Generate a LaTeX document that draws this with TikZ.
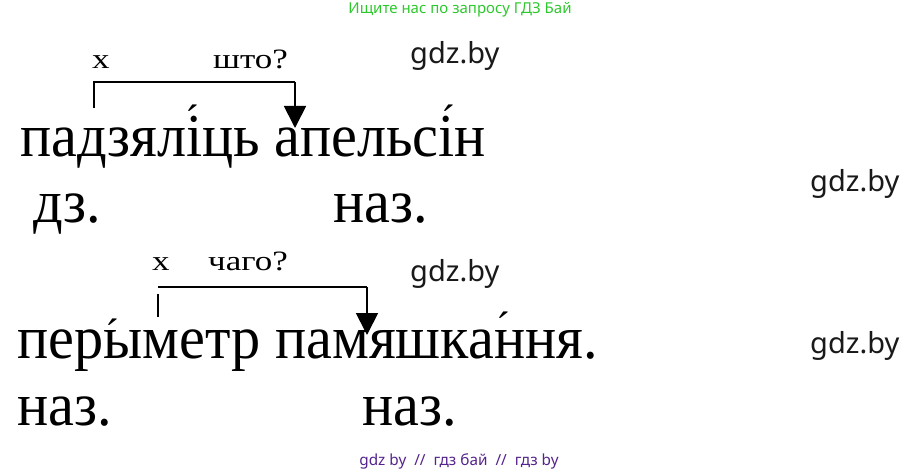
\documentclass[tikz,border=0pt]{standalone}
\usepackage{fontspec}
\setmainfont{Liberation Serif}
\newfontfamily\bigfont{Liberation Serif}[FakeStretch=0.955]
\newfontfamily\smallfont{Liberation Serif}[FakeStretch=1.25]
\newfontfamily\wmfont{Noto Sans}
\usetikzlibrary{arrows.meta}
\definecolor{hdrgreen}{RGB}{45,200,45}
\definecolor{ftrpurple}{RGB}{85,35,140}
\definecolor{wmgray}{RGB}{25,25,25}
\tikzset{
  bigtxt/.style={anchor=base west, inner sep=0pt, font=\bigfont\fontsize{61}{61}\selectfont},
  stress/.style={anchor=north, inner sep=0pt, font=\bigfont\fontsize{44}{44}\selectfont},
  smalltxt/.style={anchor=base west, inner sep=0pt, font=\smallfont\fontsize{28}{28}\selectfont},
  wm/.style={anchor=base west, inner sep=0pt, text=wmgray, font=\wmfont\fontsize{29}{29}\selectfont},
  link/.style={line width=1.8pt},
  linkarrow/.style={line width=1.8pt, -{Triangle[length=22pt,width=22pt]}},
}
\begin{document}
\begin{tikzpicture}[x=1pt,y=-1pt]
\useasboundingbox (0,0) rectangle (921,473);
% header / footer
\node[inner sep=0pt, text=hdrgreen, font=\wmfont\fontsize{15}{15}\selectfont] (hdr) at (460,10) {Ищите нас по запросу ГДЗ Бай};
\node[inner sep=0pt, text=ftrpurple, font=\wmfont\fontsize{15.3}{15.3}\selectfont] (ftr) at (459,461) {gdz by\ \ //\ \ гдз бай\ \ //\ \ гдз by};
% watermarks
\node[wm] (w1) at (410,64) {gdz.by};
\node[wm] (w2) at (810,192) {gdz.by};
\node[wm] (w3) at (410,281) {gdz.by};
\node[wm] (w4) at (810,353) {gdz.by};
% line 1
\node[smalltxt] (x1) at (92,69) {х};
\node[smalltxt] (q1) at (213,69) {што?};
\node[bigtxt] (s1) at (20,157) {падзяліць апельсін};
\node[stress] (t1) at (192,105) {´};
\node[stress] (t2) at (448,105) {´};
\node[bigtxt] (d1) at (33,223) {дз.};
\node[bigtxt] (n1) at (333,223) {наз.};
\coordinate (a1) at (94,108);
\coordinate (b1) at (94,82);
\coordinate (c1) at (295,82);
\coordinate (e1) at (295,128);
\draw[link] (a1) -- (b1) -- (c1);
\draw[linkarrow] (c1) -- (e1);
% line 2
\node[smalltxt] (x2) at (152,270) {х};
\node[smalltxt] (q2) at (208,270) {чаго?};
\node[bigtxt] (s2) at (17,358) {перыметр памяшкання.};
\node[stress] (t3) at (112,319) {´};
\node[stress] (t4) at (503,312) {´};
\node[bigtxt] (n2) at (17,425) {наз.};
\node[bigtxt] (n3) at (362,425) {наз.};
\coordinate (a2) at (158,317);
\coordinate (b2) at (158,294);
\coordinate (f2) at (158,287);
\coordinate (c2) at (367,287);
\coordinate (e2) at (367,335);
\draw[link] (a2) -- (b2);
\draw[link] (f2) -- (c2);
\draw[linkarrow] (c2) -- (e2);
\end{tikzpicture}
\end{document}
